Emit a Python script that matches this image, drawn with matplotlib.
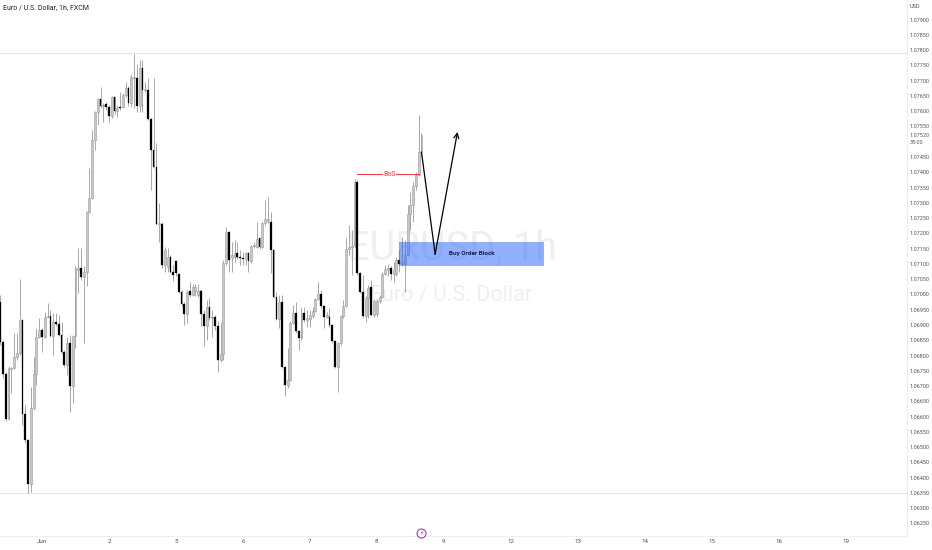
import numpy as np
import matplotlib
matplotlib.use("Agg")
import matplotlib.pyplot as plt

plt.rcParams["font.family"] = ["Roboto", "DejaVu Sans"]

# hourly bars, first one is 15 h before the "Jun" tick
opens = [
    1.06975, 1.06844, 1.06740, 1.06592, 1.06756, 1.06759, 1.06795, 1.06808, 1.06916, 1.06609,
    1.06523, 1.06379, 1.06628, 1.06740, 1.06861, 1.06884, 1.06861, 1.06926, 1.06929, 1.06864,
    1.06910, 1.06903, 1.06867, 1.06812, 1.06769, 1.06841, 1.06700, 1.06864, 1.07080, 1.07087,
    1.07057, 1.07073, 1.07270, 1.07316, 1.07506, 1.07597, 1.07640, 1.07617, 1.07623, 1.07614,
    1.07584, 1.07646, 1.07601, 1.07614, 1.07614, 1.07653, 1.07676, 1.07627, 1.07709, 1.07709,
    1.07617, 1.07741, 1.07669, 1.07669, 1.07574, 1.07473, 1.07417, 1.07231, 1.07231, 1.07096,
    1.07090, 1.07123, 1.07073, 1.07109, 1.07067, 1.07008, 1.06969, 1.06936, 1.07011, 1.06998,
    1.07011, 1.06998, 1.07011, 1.06936, 1.06897, 1.06959, 1.06923, 1.06926, 1.06897, 1.06785,
    1.06805, 1.07103, 1.07204, 1.07119, 1.07123, 1.07136, 1.07123, 1.07119, 1.07116, 1.07136,
    1.07109, 1.07159, 1.07155, 1.07185, 1.07155, 1.07234, 1.07240, 1.07237, 1.07146, 1.06992,
    1.06920, 1.06975, 1.06762, 1.06704, 1.06720, 1.06906, 1.06939, 1.06880, 1.06857, 1.06939,
    1.06916, 1.06920, 1.06929, 1.06946, 1.06985, 1.07001, 1.06962, 1.06926, 1.06926, 1.06900,
    1.06848, 1.06762, 1.06841, 1.06929, 1.06962, 1.07149, 1.07155, 1.07159, 1.07368, 1.07070,
    1.07008, 1.06929, 1.06988, 1.07024, 1.06933, 1.06936, 1.06979, 1.06992, 1.07067, 1.07080,
    1.07087, 1.07067, 1.07067, 1.07113, 1.07100, 1.07100, 1.07129, 1.07263, 1.07293, 1.07355,
    1.07391, 1.07466,
]
highs = [
    1.06998, 1.06851, 1.06746, 1.06766, 1.06762, 1.06874, 1.06874, 1.07051, 1.06920, 1.06638,
    1.06527, 1.06697, 1.06795, 1.06890, 1.06923, 1.06890, 1.06943, 1.06972, 1.06949, 1.06939,
    1.06939, 1.06933, 1.06910, 1.06818, 1.06861, 1.06867, 1.06867, 1.07093, 1.07152, 1.07152,
    1.07093, 1.07273, 1.07414, 1.07538, 1.07601, 1.07643, 1.07679, 1.07627, 1.07630, 1.07620,
    1.07650, 1.07650, 1.07620, 1.07663, 1.07660, 1.07696, 1.07682, 1.07722, 1.07787, 1.07754,
    1.07768, 1.07768, 1.07696, 1.07709, 1.07578, 1.07709, 1.07496, 1.07299, 1.07237, 1.07155,
    1.07152, 1.07129, 1.07096, 1.07113, 1.07070, 1.07015, 1.06975, 1.07015, 1.07041, 1.07034,
    1.07034, 1.07034, 1.07018, 1.06949, 1.06982, 1.06988, 1.06949, 1.06933, 1.06913, 1.06910,
    1.07113, 1.07221, 1.07208, 1.07172, 1.07178, 1.07172, 1.07146, 1.07139, 1.07139, 1.07139,
    1.07162, 1.07172, 1.07237, 1.07188, 1.07237, 1.07309, 1.07319, 1.07270, 1.07149, 1.07008,
    1.06998, 1.06998, 1.06766, 1.06825, 1.06913, 1.06965, 1.06975, 1.06884, 1.06959, 1.06959,
    1.06949, 1.06949, 1.06959, 1.06988, 1.07041, 1.07015, 1.06965, 1.06943, 1.06956, 1.06903,
    1.06851, 1.06844, 1.06933, 1.06982, 1.07185, 1.07227, 1.07211, 1.07378, 1.07375, 1.07073,
    1.07064, 1.06995, 1.07031, 1.07047, 1.06982, 1.06985, 1.06998, 1.07073, 1.07096, 1.07100,
    1.07093, 1.07106, 1.07123, 1.07146, 1.07188, 1.07178, 1.07293, 1.07335, 1.07368, 1.07401,
    1.07587, 1.07529,
]
lows = [
    1.06834, 1.06726, 1.06586, 1.06589, 1.06677, 1.06756, 1.06785, 1.06802, 1.06573, 1.06514,
    1.06350, 1.06353, 1.06622, 1.06704, 1.06857, 1.06812, 1.06857, 1.06923, 1.06861, 1.06802,
    1.06897, 1.06864, 1.06808, 1.06762, 1.06736, 1.06615, 1.06645, 1.06825, 1.07005, 1.07047,
    1.06841, 1.07028, 1.07267, 1.07312, 1.07473, 1.07555, 1.07610, 1.07565, 1.07604, 1.07565,
    1.07578, 1.07591, 1.07581, 1.07604, 1.07610, 1.07646, 1.07617, 1.07614, 1.07610, 1.07597,
    1.07597, 1.07597, 1.07663, 1.07571, 1.07342, 1.07414, 1.07227, 1.07172, 1.07087, 1.07073,
    1.07073, 1.07070, 1.07044, 1.07060, 1.07005, 1.06962, 1.06900, 1.06906, 1.06992, 1.06995,
    1.06995, 1.06992, 1.06897, 1.06831, 1.06851, 1.06916, 1.06861, 1.06884, 1.06746, 1.06779,
    1.06785, 1.07096, 1.07073, 1.07073, 1.07106, 1.07116, 1.07096, 1.07096, 1.07096, 1.07073,
    1.07103, 1.07152, 1.07152, 1.07149, 1.07152, 1.07227, 1.07234, 1.07070, 1.06988, 1.06916,
    1.06890, 1.06759, 1.06667, 1.06694, 1.06717, 1.06903, 1.06874, 1.06818, 1.06851, 1.06910,
    1.06893, 1.06893, 1.06923, 1.06943, 1.06982, 1.06956, 1.06890, 1.06923, 1.06893, 1.06841,
    1.06759, 1.06681, 1.06834, 1.06923, 1.06959, 1.07129, 1.07064, 1.07152, 1.07064, 1.07005,
    1.06923, 1.06910, 1.06923, 1.06929, 1.06926, 1.06926, 1.06972, 1.06988, 1.07064, 1.07060,
    1.07047, 1.07041, 1.07060, 1.07073, 1.07093, 1.07008, 1.07126, 1.07211, 1.07237, 1.07342,
    1.07388, 1.07453,
]
closes = [
    1.06844, 1.06740, 1.06592, 1.06759, 1.06759, 1.06795, 1.06808, 1.06916, 1.06609, 1.06523,
    1.06379, 1.06628, 1.06740, 1.06861, 1.06884, 1.06861, 1.06926, 1.06929, 1.06864, 1.06910,
    1.06903, 1.06867, 1.06812, 1.06769, 1.06841, 1.06700, 1.06864, 1.07087, 1.07087, 1.07057,
    1.07073, 1.07270, 1.07316, 1.07506, 1.07597, 1.07640, 1.07617, 1.07620, 1.07614, 1.07584,
    1.07646, 1.07601, 1.07610, 1.07610, 1.07653, 1.07676, 1.07627, 1.07712, 1.07712, 1.07617,
    1.07741, 1.07669, 1.07673, 1.07574, 1.07473, 1.07417, 1.07231, 1.07234, 1.07096, 1.07146,
    1.07123, 1.07073, 1.07064, 1.07070, 1.07008, 1.06969, 1.06936, 1.07008, 1.06998, 1.07024,
    1.07024, 1.07011, 1.06936, 1.06897, 1.06959, 1.06923, 1.06926, 1.06897, 1.06785, 1.06805,
    1.07103, 1.07204, 1.07113, 1.07129, 1.07136, 1.07123, 1.07119, 1.07116, 1.07136, 1.07109,
    1.07159, 1.07162, 1.07182, 1.07155, 1.07234, 1.07247, 1.07247, 1.07146, 1.06992, 1.06920,
    1.06975, 1.06762, 1.06704, 1.06720, 1.06906, 1.06939, 1.06880, 1.06857, 1.06939, 1.06916,
    1.06923, 1.06933, 1.06946, 1.06985, 1.07001, 1.06962, 1.06926, 1.06933, 1.06900, 1.06848,
    1.06762, 1.06841, 1.06929, 1.06962, 1.07149, 1.07155, 1.07159, 1.07368, 1.07070, 1.07008,
    1.06929, 1.06988, 1.07021, 1.06933, 1.06979, 1.06979, 1.06992, 1.07067, 1.07083, 1.07087,
    1.07067, 1.07080, 1.07113, 1.07100, 1.07106, 1.07129, 1.07263, 1.07293, 1.07355, 1.07391,
    1.07466, 1.07522,
]

day_ticks = [0, 24, 48, 72, 96, 120, 144, 168, 192, 216, 240, 264, 288]
day_labels = ["Jun", "2", "5", "6", "7", "8", "9", "12", "13", "14", "15", "16", "19"]
# 1.07500 is hidden behind the countdown label in the reference
price_labels = [
    "1.06250", "1.06300", "1.06350", "1.06400", "1.06450", "1.06500", "1.06550", "1.06600",
    "1.06650", "1.06700", "1.06750", "1.06800", "1.06850", "1.06900", "1.06950", "1.07000",
    "1.07050", "1.07100", "1.07150", "1.07200", "1.07250", "1.07300", "1.07350", "1.07400",
    "1.07450", "1.07550", "1.07600", "1.07650", "1.07700", "1.07750", "1.07800", "1.07850",
    "1.07900",
]

hlines = [1.07790, 1.06350]
block_top, block_bottom = 1.07172, 1.07093
block_start, block_end = 128.0, 179.8
bos_price = 1.07394
bos_start, bos_end = 113.0, 135.0
path_hours = [136, 140.9, 148.9]
path_prices = [1.07466, 1.07132, 1.07532]
last_price = 1.07520


def draw_candles(ax, opens, highs, lows, closes):
    o = np.array(opens)
    h = np.array(highs)
    l = np.array(lows)
    c = np.array(closes)
    x = np.arange(len(o)) - 15
    up = c >= o

    ax.vlines(x, l, h, color="#9a9a9a", lw=0.6, zorder=2)
    # at this size the white bodies blur to grey, so fill them grey
    ax.bar(x[up], (c - o)[up], bottom=o[up], width=0.7, color="#c8c8c8",
           edgecolor="#9a9a9a", lw=0.4, zorder=3)
    ax.bar(x[~up], (o - c)[~up], bottom=c[~up], width=0.6, color="black",
           edgecolor="black", lw=0.2, zorder=3)


def main():
    fig = plt.figure(figsize=(9.32, 5.5), dpi=100)
    ax = fig.add_axes([0, 14 / 550, 907 / 932, 536 / 550])
    ax.set_xlim(-15.05, 310)
    ax.set_ylim(1.06209, 1.07964)

    for side in ["top", "left"]:
        ax.spines[side].set_visible(False)
    for side in ["right", "bottom"]:
        ax.spines[side].set_color("#eeeeee")
        ax.spines[side].set_linewidth(0.8)

    ax.yaxis.tick_right()
    ax.set_yticks([float(p) for p in price_labels])
    ax.set_yticklabels(price_labels)
    ax.set_xticks(day_ticks)
    ax.set_xticklabels(day_labels)
    ax.tick_params(axis="y", length=0, pad=2, labelsize=4, labelcolor="#555555")
    ax.tick_params(axis="x", length=0, pad=2, labelsize=4.5, labelcolor="#555555")

    # watermark sits under everything
    ax.text(0.498, 0.5365, "EURUSD, 1h", transform=ax.transAxes, fontsize=28.5, color="#efefef",
            ha="center", va="center", zorder=1)
    ax.text(0.4975, 0.4495, "Euro / U.S. Dollar", transform=ax.transAxes, fontsize=15.5,
            color="#efefef", ha="center", va="center", zorder=1)

    for p in hlines:
        ax.axhline(p, color="#e6e6e6", lw=0.8, zorder=1)

    draw_candles(ax, opens, highs, lows, closes)

    ax.fill_between([block_start, block_end], block_bottom, block_top, color="#2962ff",
                    alpha=0.5, lw=0, zorder=4)
    ax.text(154, (block_top + block_bottom) / 2, "Buy Order Block", fontsize=4.5,
            fontweight="bold", color="#10204a", ha="center", va="center", zorder=6)

    ax.plot([bos_start, 122.0], [bos_price, bos_price], color="#f23645", lw=0.7, zorder=5)
    ax.plot([127.0, bos_end], [bos_price, bos_price], color="#f23645", lw=0.7, zorder=5)
    ax.text(124.5, bos_price, "BoS", fontsize=5, color="#f23645", ha="center", va="center",
            zorder=5)

    ax.plot(path_hours[:2], path_prices[:2], color="black", lw=0.9, zorder=6)
    ax.annotate("", xy=(path_hours[2], path_prices[2]), xytext=(path_hours[1], path_prices[1]),
                arrowprops=dict(arrowstyle="->", color="black", lw=0.9, shrinkA=0, shrinkB=0,
                                mutation_scale=9), zorder=6)

    # event marker at the bottom of the pane
    ax.plot([136], [1.06218], marker="o", ms=6.5, mfc="white", mec="#9c27b0", mew=0.7,
            clip_on=False, zorder=7)
    ax.text(136, 1.06218, "\u26a1", fontsize=4, color="#9c27b0", ha="center", va="center",
            family="DejaVu Sans", zorder=8)

    fig.text(3 / 932, 1 - 7.5 / 550, "Euro / U.S. Dollar, 1h, FXCM", fontsize=5,
             color="#222222", va="center")
    fig.text(910 / 932, 1 - 6 / 550, "USD", fontsize=4, color="#555555", va="center")
    ax.text(1.0033, last_price, f"{last_price:.5f}", transform=ax.get_yaxis_transform(),
            fontsize=4, color="#555555", va="center")
    fig.text(910 / 932, 1 - 143 / 550, "38:00", fontsize=4, color="#555555", va="center")

    fig.savefig("out.png", dpi=100)


if __name__ == "__main__":
    main()
